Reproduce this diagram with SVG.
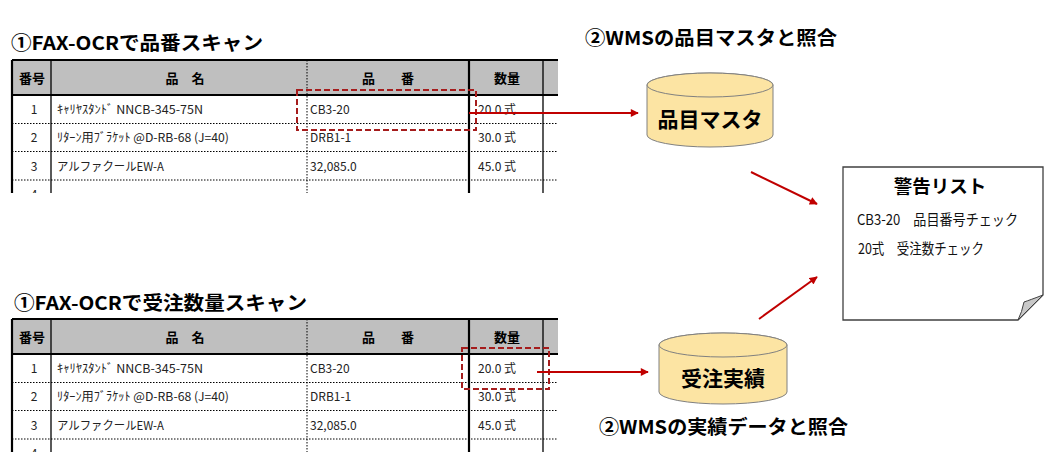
<svg xmlns="http://www.w3.org/2000/svg" width="1054" height="468" viewBox="0 0 1054 468">
<style>
.title{font-family:"Noto Sans CJK JP","Liberation Sans",sans-serif;font-weight:bold;font-size:19px;fill:#000}
.hd{font-family:"Noto Sans CJK JP","Liberation Sans",sans-serif;font-weight:bold;font-size:13px;fill:#000}
.cell{font-family:"Noto Sans CJK JP","Liberation Sans",sans-serif;font-size:12px;fill:#222}
.thick{stroke:#000;stroke-width:2.2;fill:none}
.thin{stroke:#000;stroke-width:1.3;fill:none}
.dot{stroke:#000;stroke-width:1;stroke-dasharray:1.5,1.5;fill:none}
.hl{stroke:#a51c1c;stroke-width:2;stroke-dasharray:6,3;fill:none}
.arr{stroke:#c00000;stroke-width:2;fill:none;marker-end:url(#ah)}
.cyl{fill:#fce4a3;stroke:#808080;stroke-width:1}
.dbt{font-family:"Noto Sans CJK JP","Liberation Sans",sans-serif;font-weight:bold;font-size:21px;fill:#000}
.wt{font-family:"Noto Sans CJK JP","Liberation Sans",sans-serif;font-size:15px;fill:#111}
</style>
<defs>
<marker id="ah" viewBox="0 0 10 10" refX="9" refY="5" markerWidth="4.5" markerHeight="4" orient="auto" markerUnits="strokeWidth">
<path d="M0,0 L10,5 L0,10 z" fill="#c00000"/>
</marker>
<clipPath id="c1"><rect x="0" y="50" width="558" height="143"/></clipPath>
<clipPath id="c2"><rect x="0" y="310" width="558" height="142"/></clipPath>
<g id="tbl">
<rect x="12" y="0" width="548" height="35" fill="#bfbfbf"/>
<rect x="12" y="35" width="548" height="110" fill="#fff"/>
<line class="thick" x1="12" y1="0" x2="560" y2="0"/>
<line class="thick" x1="12" y1="35" x2="560" y2="35"/>
<line class="dot" x1="12" y1="63.5" x2="560" y2="63.5"/>
<line class="dot" x1="12" y1="91.5" x2="560" y2="91.5"/>
<line class="dot" x1="12" y1="120" x2="560" y2="120"/>
<line class="thick" x1="12" y1="0" x2="12" y2="145"/>
<line class="thin" x1="51" y1="0" x2="51" y2="145"/>
<line class="dot" x1="307" y1="0" x2="307" y2="145"/>
<line class="thick" x1="469" y1="0" x2="469" y2="145"/>
<line class="thin" x1="543" y1="0" x2="543" y2="145"/>
<text class="hd" x="32" y="22.5" text-anchor="middle">番号</text>
<text class="hd" x="185" y="22.5" text-anchor="middle">品　名</text>
<text class="hd" x="388" y="22.5" text-anchor="middle">品　　番</text>
<text class="hd" x="507" y="22.5" text-anchor="middle">数量</text>
<text class="cell" x="34" y="54" text-anchor="middle">1</text>
<text class="cell" x="34" y="82" text-anchor="middle">2</text>
<text class="cell" x="34" y="110.5" text-anchor="middle">3</text>
<text class="cell" x="34" y="138.5" text-anchor="middle">4</text>
<text class="cell" x="57" y="54" textLength="146" lengthAdjust="spacingAndGlyphs">ｷｬﾘﾔｽﾀﾝﾄﾞ NNCB-345-75N</text>
<text class="cell" x="57" y="82" textLength="172" lengthAdjust="spacingAndGlyphs">ﾘﾀｰﾝ用ﾌﾞﾗｹｯﾄ @D-RB-68 (J=40)</text>
<text class="cell" x="57" y="110.5" textLength="107" lengthAdjust="spacingAndGlyphs">アルファクールEW-A</text>
<text class="cell" x="310" y="54">CB3-20</text>
<text class="cell" x="310" y="82">DRB1-1</text>
<text class="cell" x="310" y="110.5">32,085.0</text>
<text class="cell" x="478" y="54">20.0 式</text>
<text class="cell" x="478" y="82">30.0 式</text>
<text class="cell" x="478" y="110.5">45.0 式</text>
</g>
</defs>

<g id="title1"><text class="title" x="11" y="50" textLength="252" lengthAdjust="spacingAndGlyphs">①FAX-OCRで品番スキャン</text></g>
<g id="table1" clip-path="url(#c1)"><use href="#tbl" x="0" y="60"/></g>

<g id="title2"><text class="title" x="14" y="310" textLength="293" lengthAdjust="spacingAndGlyphs">①FAX-OCRで受注数量スキャン</text></g>
<g id="table2" clip-path="url(#c2)"><use href="#tbl" x="0" y="319"/></g>

<g id="highlight1"><rect class="hl" x="297" y="90" width="179" height="40"/></g>
<g id="highlight2"><rect class="hl" x="462" y="348" width="87" height="41"/></g>

<g id="title3"><text class="title" x="585" y="45" textLength="252" lengthAdjust="spacingAndGlyphs">②WMSの品目マスタと照合</text></g>
<g id="title4"><text class="title" x="599" y="434" textLength="249" lengthAdjust="spacingAndGlyphs">②WMSの実績データと照合</text></g>

<g id="master">
<path class="cyl" d="M647,85 A63,12 0 0 1 773,85 L773,135 A63,12 0 0 1 647,135 Z"/>
<ellipse class="cyl" cx="710" cy="85" rx="63" ry="12"/>
<text class="dbt" x="710" y="127" text-anchor="middle">品目マスタ</text>
</g>

<g id="orders">
<path class="cyl" d="M659,345 A64,12 0 0 1 787,345 L787,392 A64,12 0 0 1 659,392 Z"/>
<ellipse class="cyl" cx="723" cy="345" rx="64" ry="12"/>
<text class="dbt" x="723" y="386" text-anchor="middle">受注実績</text>
</g>

<g id="warning">
<path d="M843,167 L1043,167 L1043,295 L1018,320 L843,320 Z" fill="#fff" stroke="#404040" stroke-width="1.3"/>
<path d="M1018,320 L1043,295 Q1030,300 1024,302 Q1022,312 1018,320 Z" fill="#c8c8c8" stroke="#404040" stroke-width="1"/>
<text x="940" y="193" text-anchor="middle" font-family="Noto Sans CJK JP, Liberation Sans, sans-serif" font-weight="bold" font-size="18.5">警告リスト</text>
<text class="wt" x="857" y="225" textLength="161" lengthAdjust="spacingAndGlyphs">CB3-20　品目番号チェック</text>
<text class="wt" x="858" y="254" textLength="126" lengthAdjust="spacingAndGlyphs">20式　受注数チェック</text>
</g>

<g id="connectors">
<line class="arr" x1="469" y1="113" x2="638" y2="113"/>
<line class="arr" x1="537" y1="372" x2="648" y2="372"/>
<line class="arr" x1="751" y1="172" x2="817" y2="204"/>
<line class="arr" x1="759" y1="319" x2="817" y2="277"/>
</g>
</svg>
